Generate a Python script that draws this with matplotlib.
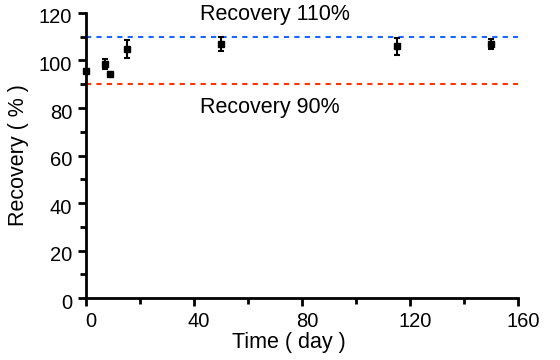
import numpy as np
import matplotlib
matplotlib.use("Agg")
import matplotlib.pyplot as plt
import matplotlib.transforms as mtransforms
from matplotlib.ticker import MultipleLocator

plt.rcParams['font.family'] = ['Liberation Sans', 'DejaVu Sans']

days = [0, 7, 9, 15, 50, 115, 150]
recovery = [95.6, 98.5, 94.3, 104.8, 107.0, 106.0, 107.0]
err = [1.0, 2.0, 1.0, 3.8, 3.0, 3.5, 2.0]

upper = 110
lower = 90

fig = plt.figure(figsize=(5.6, 3.6), dpi=100)
ax = fig.add_axes([0.1536, 0.172, 0.7714, 0.792])

ax.plot([0, 160], [upper, upper], linestyle=(0, (2.5, 2.5)), color="#1a66ff", lw=1.5)
ax.plot([0, 160], [lower, lower], linestyle=(0, (2.5, 2.5)), color="#ff3300", lw=1.5)

ax.errorbar(days, recovery, yerr=err, fmt="s", color="black", ms=4,
            capsize=2.5, elinewidth=1.5, capthick=1.5, clip_on=False, zorder=5)

ax.text(42.2, 117, "Recovery 110%", ha="left", va="baseline", fontsize=15.5)
ax.text(42.2, 77.9, "Recovery 90%", ha="left", va="baseline", fontsize=15.5)

ax.set_xlim(0, 160)
ax.set_ylim(0, 120)
ax.xaxis.set_major_locator(MultipleLocator(40))
ax.xaxis.set_minor_locator(MultipleLocator(20))
ax.yaxis.set_major_locator(MultipleLocator(20))
ax.yaxis.set_minor_locator(MultipleLocator(10))

for s in ["top", "right"]:
    ax.spines[s].set_visible(False)
for s in ["left", "bottom"]:
    ax.spines[s].set_linewidth(2)

ax.tick_params(which="major", direction="out", length=6, width=2, labelsize=14.5, pad=4)
ax.tick_params(which="minor", direction="out", length=4, width=2)

# labels sit a little right / below their ticks in the original
dx = mtransforms.ScaledTranslation(5 / 100, 0, fig.dpi_scale_trans)
dy = mtransforms.ScaledTranslation(0, -3 / 100, fig.dpi_scale_trans)
for lab in ax.get_xticklabels():
    lab.set_transform(lab.get_transform() + dx)
for lab in ax.get_yticklabels():
    lab.set_transform(lab.get_transform() + dy)

ax.set_xlabel("Time ( day )", fontsize=15.5, labelpad=1, x=0.47)
ax.set_ylabel("Recovery ( % )", fontsize=15.5, labelpad=7)

fig.savefig("out.png", dpi=100)
